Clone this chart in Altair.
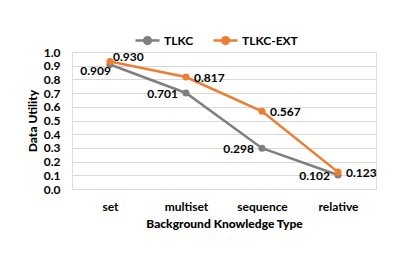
import altair as alt
import pandas as pd

categories = ["set", "multiset", "sequence", "relative"]
series_names = ["TLKC", "TLKC-EXT"]
tlkc_values = [0.909, 0.701, 0.298, 0.102]
ext_values = [0.930, 0.817, 0.567, 0.123]
colors = ["#7f7f7f", "#ed7d31"]
y_ticks = [round(i * 0.1, 1) for i in range(11)]

rows = []
for c, v in zip(categories, tlkc_values):
    rows.append({"cat": c, "series": "TLKC", "value": v})
for c, v in zip(categories, ext_values):
    rows.append({"cat": c, "series": "TLKC-EXT", "value": v})
df = pd.DataFrame(rows)

FONT = "Lato"

sym = "M-1,0L1,0M-0.28,0A0.28,0.28 0 1,1 0.28,0A0.28,0.28 0 1,1 -0.28,0Z"

axis_style = dict(labelFont=FONT, labelFontSize=12, labelFontWeight="bold", labelColor="black",
                  titleFont=FONT, titleFontSize=12, titleFontWeight=900, titleColor="black")

x = alt.X("cat:N", sort=categories,
          scale=alt.Scale(domain=categories, paddingInner=0, paddingOuter=0.5),
          axis=alt.Axis(title="Background Knowledge Type", labelAngle=0, domain=False,
                        ticks=False, grid=False, labelPadding=12, titlePadding=6,
                        **axis_style))
y = alt.Y("value:Q", scale=alt.Scale(domain=[0, 1], nice=False),
          axis=alt.Axis(title="Data Utility", values=y_ticks, format=".1f", domain=False,
                        ticks=False, labelPadding=12, titlePadding=4,
                        gridColor="#d9d9d9", gridWidth=1, **axis_style))
color = alt.Color("series:N", scale=alt.Scale(domain=series_names, range=colors),
                  legend=alt.Legend(title=None, orient="none", direction="horizontal",
                                    legendX=62, legendY=-25, symbolType=sym,
                                    symbolSize=576, symbolStrokeWidth=2.5,
                                    labelFontSize=12, labelFont=FONT,
                                    labelFontWeight="bold", labelColor="black",
                                    columnPadding=14, labelOffset=3))

base = alt.Chart(df)
lines = base.mark_line(strokeWidth=2.5).encode(x=x, y=y, color=color)
points = base.mark_point(filled=True, size=50, opacity=1).encode(x=x, y=y, color=color)

def labels(cond, align, dx, dy):
    return base.transform_filter(cond).mark_text(
        align=align, baseline="middle", dx=dx, dy=dy, font=FONT, fontSize=12,
        fontWeight="bold", color="black").encode(
        x=x, y=y, text=alt.Text("value:Q", format=".3f"))

lbl_tlkc = labels("datum.series == 'TLKC' && datum.cat != 'set'", "right", -8, 1)
lbl_tlkc0 = labels("datum.series == 'TLKC' && datum.cat == 'set'", "right", 1, 7)
lbl_ext = labels("datum.series == 'TLKC-EXT' && datum.cat != 'set'", "left", 8, 1)
lbl_ext0 = labels("datum.series == 'TLKC-EXT' && datum.cat == 'set'", "left", 3, -5)

chart = alt.layer(lines, points, lbl_tlkc, lbl_tlkc0, lbl_ext, lbl_ext0).properties(
    width=304, height=137,
    autosize=alt.AutoSizeParams(type="none"),
    padding={"left": 64, "top": 44, "right": 20, "bottom": 50},
).configure_view(stroke=None).configure(background="white")

chart.save("out.html", embed_options={"renderer": "svg", "actions": False})
